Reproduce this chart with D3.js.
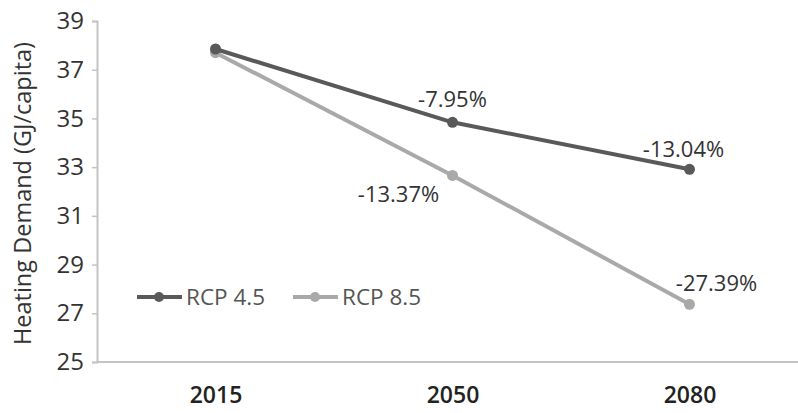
<!DOCTYPE html>
<html>
<head>
<meta charset="utf-8">
<script src="https://cdn.jsdelivr.net/npm/d3@7"></script>
<style>
  body { margin: 0; background: #fff; }
  text { font-family: "Open Sans", sans-serif; }
</style>
</head>
<body>
<div id="chart"></div>
<script>
// values
var years = ["2015", "2050", "2080"];
var rcp45 = [37.85, 34.84, 32.91];
var rcp85 = [37.7, 32.66, 27.37];
var rcp45Labels = ["", "-7.95%", "-13.04%"];
var rcp85Labels = ["", "-13.37%", "-27.39%"];
var yTicks = [25, 27, 29, 31, 33, 35, 37, 39];

var width = 798, height = 413;
// plot box (window.top is read-only, so no bare "top")
var plotLeft = 97, plotTop = 21, plotBottom = 362, plotRight = 808;

var svg = d3.select("#chart").append("svg")
    .attr("width", width)
    .attr("height", height);

var x = d3.scalePoint().domain(years).range([plotLeft, plotRight]).padding(0.5);
var y = d3.scaleLinear().domain([25, 39]).range([plotBottom, plotTop]);

// y axis
var yAxis = svg.append("g")
    .attr("transform", "translate(" + plotLeft + ",0)")
    .call(d3.axisLeft(y).tickValues(yTicks).tickSize(5).tickPadding(8));
yAxis.select(".domain").attr("stroke", "#c4c4c4").attr("stroke-width", 2);
yAxis.selectAll(".tick line").attr("stroke", "#c4c4c4").attr("stroke-width", 1.5);
yAxis.selectAll(".tick text")
    .attr("fill", "#333")
    .style("font-size", "24px");

// x axis
var xAxis = svg.append("g")
    .attr("transform", "translate(0," + plotBottom + ")")
    .call(d3.axisBottom(x).tickSize(0).tickPadding(25));
xAxis.select(".domain").attr("d", "M" + plotLeft + ",0H" + plotRight)
    .attr("stroke", "#c4c4c4").attr("stroke-width", 2);
xAxis.selectAll(".tick text")
    .attr("fill", "#222")
    .style("font-size", "23px")
    .style("font-weight", "600");

// axis title
svg.append("text")
    .attr("transform", "translate(31," + ((plotTop + plotBottom) / 2 + 2) + ") rotate(-90)")
    .attr("text-anchor", "middle")
    .attr("fill", "#333")
    .style("font-size", "23.5px")
    .text("Heating Demand (GJ/capita)");

var series = [
  { name: "RCP 8.5", values: rcp85, labels: rcp85Labels, color: "#a9a9a9" },
  { name: "RCP 4.5", values: rcp45, labels: rcp45Labels, color: "#595959" }
];

var line = d3.line()
    .x(function(d, i){ return x(years[i]); })
    .y(function(d){ return y(d); });

series.forEach(function(s){
  svg.append("path")
      .datum(s.values)
      .attr("d", line)
      .attr("fill", "none")
      .attr("stroke", s.color)
      .attr("stroke-width", 4);
  svg.selectAll(null)
      .data(s.values)
      .enter()
      .append("circle")
      .attr("cx", function(d, i){ return x(years[i]); })
      .attr("cy", function(d){ return y(d); })
      .attr("r", 5.5)
      .attr("fill", s.color);
});

// data labels
var labelPos = [
  { text: rcp45Labels[1], x: x("2050"), y: y(rcp45[1]) - 15 },
  { text: rcp45Labels[2], x: x("2080") - 6, y: y(rcp45[2]) - 12 },
  { text: rcp85Labels[1], x: x("2050") - 54, y: y(rcp85[1]) + 27 },
  { text: rcp85Labels[2], x: x("2080") + 27, y: y(rcp85[2]) - 13 }
];
svg.selectAll(".dlabel")
    .data(labelPos)
    .enter()
    .append("text")
    .attr("class", "dlabel")
    .attr("x", function(d){ return d.x; })
    .attr("y", function(d){ return d.y; })
    .attr("text-anchor", "middle")
    .attr("fill", "#333")
    .style("font-size", "22px")
    .text(function(d){ return d.text; });

// legend
var legend = [
  { name: "RCP 4.5", color: "#595959", x0: 137 },
  { name: "RCP 8.5", color: "#a9a9a9", x0: 293 }
];
var ly = 297;
legend.forEach(function(l){
  svg.append("line")
      .attr("x1", l.x0).attr("x2", l.x0 + 45)
      .attr("y1", ly).attr("y2", ly)
      .attr("stroke", l.color).attr("stroke-width", 4);
  svg.append("circle")
      .attr("cx", l.x0 + 22).attr("cy", ly).attr("r", 5)
      .attr("fill", l.color);
  svg.append("text")
      .attr("x", l.x0 + 49).attr("y", ly + 8)
      .attr("fill", "#555")
      .style("font-size", "22.5px")
      .text(l.name);
});
</script>
</body>
</html>
